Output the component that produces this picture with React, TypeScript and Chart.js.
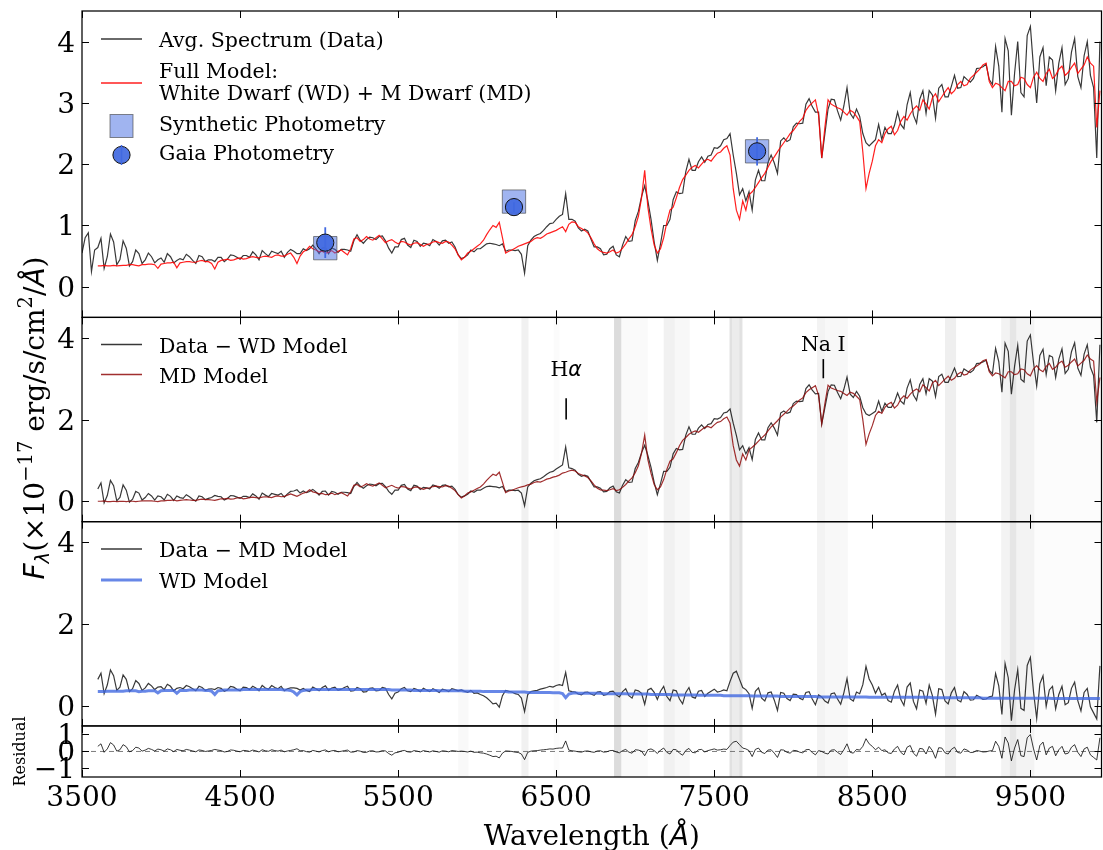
import React, { useEffect, useRef } from 'react';
import { Chart, registerables } from 'chart.js';

Chart.register(...registerables);

// ---------- data ----------
const WAVELENGTH = [
  3500, 3520, 3540, 3560, 3580, 3600, 3620, 3640, 3660, 3680, 3700, 3720, 3740, 3760, 3780, 3800, 3820, 3840, 3860, 3880,
  3900, 3920, 3940, 3960, 3980, 4000, 4020, 4040, 4060, 4080, 4100, 4120, 4140, 4160, 4180, 4200, 4220, 4240, 4260, 4280,
  4300, 4320, 4340, 4360, 4380, 4400, 4420, 4440, 4460, 4480, 4500, 4520, 4540, 4560, 4580, 4600, 4620, 4640, 4660, 4680,
  4700, 4720, 4740, 4760, 4780, 4800, 4820, 4840, 4860, 4880, 4900, 4920, 4940, 4960, 4980, 5000, 5020, 5040, 5060, 5080,
  5100, 5120, 5140, 5160, 5180, 5200, 5220, 5240, 5260, 5280, 5300, 5320, 5340, 5360, 5380, 5400, 5420, 5440, 5460, 5480,
  5500, 5520, 5540, 5560, 5580, 5600, 5620, 5640, 5660, 5680, 5700, 5720, 5740, 5760, 5780, 5800, 5820, 5840, 5860, 5880,
  5900, 5920, 5940, 5960, 5980, 6000, 6020, 6040, 6060, 6080, 6100, 6120, 6140, 6160, 6180, 6200, 6220, 6240, 6260, 6280,
  6300, 6320, 6340, 6360, 6380, 6400, 6420, 6440, 6460, 6480, 6500, 6520, 6540, 6560, 6580, 6600, 6620, 6640, 6660, 6680,
  6700, 6720, 6740, 6760, 6780, 6800, 6820, 6840, 6860, 6880, 6900, 6920, 6940, 6960, 6980, 7000, 7020, 7040, 7060, 7080,
  7100, 7120, 7140, 7160, 7180, 7200, 7220, 7240, 7260, 7280, 7300, 7320, 7340, 7360, 7380, 7400, 7420, 7440, 7460, 7480,
  7500, 7520, 7540, 7560, 7580, 7600, 7620, 7640, 7660, 7680, 7700, 7720, 7740, 7760, 7780, 7800, 7820, 7840, 7860, 7880,
  7900, 7920, 7940, 7960, 7980, 8000, 8020, 8040, 8060, 8080, 8100, 8120, 8140, 8160, 8180, 8200, 8220, 8240, 8260, 8280,
  8300, 8320, 8340, 8360, 8380, 8400, 8420, 8440, 8460, 8480, 8500, 8520, 8540, 8560, 8580, 8600, 8620, 8640, 8660, 8680,
  8700, 8720, 8740, 8760, 8780, 8800, 8820, 8840, 8860, 8880, 8900, 8920, 8940, 8960, 8980, 9000, 9020, 9040, 9060, 9080,
  9100, 9120, 9140, 9160, 9180, 9200, 9220, 9240, 9260, 9280, 9300, 9320, 9340, 9360, 9380, 9400, 9420, 9440, 9460, 9480,
  9500, 9520, 9540, 9560, 9580, 9600, 9620, 9640, 9660, 9680, 9700, 9720, 9740, 9760, 9780, 9800, 9820, 9840, 9860, 9880,
  9900, 9920, 9940,
];

// Avg. spectrum blueward of the model coverage (3500-3580 Å)
const DATA_BLUE_EDGE = [0.55, 0.80, 0.88, 0.25, 0.60];

// Full model (WD + MD)
const FULL_MODEL: (number | null)[] = [
  null, null, null, null, null, 0.34, 0.34, 0.35, 0.34, 0.34, 0.35, 0.34, 0.345, 0.35, 0.35, 0.36, 0.36, 0.35, 0.34, 0.36,
  0.36, 0.37, 0.37, 0.36, 0.30, 0.37, 0.38, 0.39, 0.39, 0.40, 0.31, 0.39, 0.40, 0.41, 0.41, 0.40, 0.40, 0.42, 0.43, 0.41,
  0.41, 0.38, 0.29, 0.40, 0.43, 0.44, 0.45, 0.43, 0.44, 0.46, 0.47, 0.45, 0.46, 0.48, 0.49, 0.48, 0.47, 0.49, 0.50, 0.49,
  0.48, 0.51, 0.52, 0.50, 0.50, 0.53, 0.55, 0.48, 0.38, 0.50, 0.57, 0.60, 0.66, 0.62, 0.60, 0.57, 0.58, 0.55, 0.56, 0.59,
  0.55, 0.58, 0.60, 0.56, 0.52, 0.62, 0.78, 0.80, 0.74, 0.77, 0.82, 0.78, 0.76, 0.80, 0.84, 0.78, 0.72, 0.75, 0.77, 0.73,
  0.70, 0.74, 0.73, 0.70, 0.68, 0.71, 0.72, 0.69, 0.66, 0.69, 0.70, 0.73, 0.74, 0.72, 0.71, 0.74, 0.73, 0.68, 0.62, 0.52,
  0.44, 0.48, 0.55, 0.58, 0.62, 0.66, 0.70, 0.76, 0.85, 0.93, 1.00, 0.97, 1.05, 0.80, 0.55, 0.58, 0.60, 0.63, 0.66, 0.68,
  0.70, 0.72, 0.74, 0.78, 0.80, 0.79, 0.82, 0.86, 0.88, 0.90, 0.92, 0.95, 0.98, 0.90, 1.02, 1.06, 1.05, 0.98, 0.95, 0.92,
  0.88, 0.80, 0.70, 0.62, 0.58, 0.56, 0.55, 0.57, 0.60, 0.55, 0.57, 0.63, 0.70, 0.78, 0.85, 0.98, 1.15, 1.45, 1.90, 1.30,
  0.95, 0.68, 0.55, 0.62, 0.80, 1.05, 1.25, 1.30, 1.45, 1.62, 1.75, 1.82, 1.90, 1.95, 1.98, 1.94, 2.00, 2.06, 2.08, 2.05,
  2.12, 2.18, 2.20, 2.26, 2.30, 2.15, 1.60, 1.25, 1.10, 1.40, 1.25, 1.50, 1.55, 1.62, 1.70, 1.78, 1.85, 1.95, 2.05, 2.12,
  2.20, 2.28, 2.35, 2.42, 2.50, 2.55, 2.62, 2.70, 2.75, 2.88, 2.95, 3.00, 3.05, 2.80, 2.10, 2.60, 3.05, 2.98, 2.95, 2.92,
  2.90, 2.85, 2.80, 2.88, 2.85, 2.78, 2.70, 2.20, 1.60, 1.85, 2.05, 2.30, 2.40, 2.35, 2.50, 2.58, 2.62, 2.48, 2.55, 2.70,
  2.78, 2.72, 2.82, 2.90, 2.95, 2.88, 3.05, 2.98, 2.90, 3.08, 3.15, 3.02, 3.10, 3.18, 3.25, 3.15, 3.20, 3.30, 3.35, 3.28,
  3.30, 3.40, 3.45, 3.50, 3.55, 3.62, 3.65, 3.35, 3.25, 3.32, 3.30, 3.25, 3.20, 3.35, 3.35, 3.28, 3.30, 3.42, 3.40, 3.30,
  3.25, 3.42, 3.50, 3.40, 3.35, 3.48, 3.55, 3.40, 3.45, 3.55, 3.60, 3.45, 3.50, 3.58, 3.65, 3.48, 3.55, 3.62, 3.75, 3.65,
  3.60, 2.60, 3.20,
];

// White dwarf model
const WD_MODEL: (number | null)[] = [
  null, null, null, null, null, 0.34, 0.34, 0.34, 0.35, 0.35, 0.35, 0.35, 0.35, 0.35, 0.36, 0.36, 0.36, 0.36, 0.34, 0.35,
  0.35, 0.36, 0.36, 0.36, 0.31, 0.36, 0.37, 0.37, 0.37, 0.37, 0.30, 0.37, 0.37, 0.37, 0.38, 0.38, 0.38, 0.38, 0.38, 0.37,
  0.37, 0.35, 0.27, 0.36, 0.37, 0.38, 0.38, 0.38, 0.38, 0.38, 0.38, 0.39, 0.39, 0.39, 0.39, 0.39, 0.39, 0.39, 0.39, 0.39,
  0.39, 0.39, 0.39, 0.39, 0.38, 0.38, 0.37, 0.33, 0.26, 0.34, 0.37, 0.38, 0.38, 0.39, 0.39, 0.39, 0.39, 0.39, 0.39, 0.39,
  0.39, 0.39, 0.39, 0.39, 0.39, 0.39, 0.39, 0.39, 0.39, 0.39, 0.39, 0.39, 0.39, 0.39, 0.39, 0.39, 0.39, 0.39, 0.38, 0.38,
  0.38, 0.38, 0.38, 0.38, 0.38, 0.37, 0.37, 0.37, 0.37, 0.37, 0.37, 0.37, 0.37, 0.36, 0.36, 0.36, 0.36, 0.36, 0.36, 0.36,
  0.36, 0.35, 0.35, 0.35, 0.35, 0.35, 0.35, 0.34, 0.34, 0.34, 0.34, 0.34, 0.34, 0.34, 0.34, 0.33, 0.33, 0.33, 0.33, 0.33,
  0.33, 0.32, 0.32, 0.32, 0.32, 0.32, 0.32, 0.32, 0.32, 0.31, 0.31, 0.31, 0.29, 0.19, 0.28, 0.30, 0.31, 0.30, 0.30, 0.30,
  0.30, 0.30, 0.30, 0.30, 0.30, 0.29, 0.29, 0.29, 0.29, 0.29, 0.29, 0.29, 0.29, 0.28, 0.28, 0.28, 0.28, 0.28, 0.28, 0.28,
  0.27, 0.27, 0.27, 0.27, 0.27, 0.27, 0.27, 0.26, 0.26, 0.26, 0.26, 0.26, 0.26, 0.26, 0.26, 0.25, 0.25, 0.25, 0.25, 0.25,
  0.25, 0.25, 0.25, 0.24, 0.24, 0.24, 0.24, 0.24, 0.24, 0.24, 0.24, 0.24, 0.23, 0.23, 0.23, 0.23, 0.23, 0.23, 0.23, 0.23,
  0.23, 0.22, 0.22, 0.22, 0.22, 0.22, 0.22, 0.22, 0.22, 0.22, 0.22, 0.22, 0.22, 0.21, 0.21, 0.21, 0.21, 0.21, 0.21, 0.21,
  0.21, 0.21, 0.21, 0.21, 0.21, 0.21, 0.21, 0.21, 0.21, 0.20, 0.20, 0.20, 0.20, 0.20, 0.20, 0.20, 0.20, 0.20, 0.20, 0.20,
  0.20, 0.20, 0.20, 0.20, 0.20, 0.20, 0.20, 0.20, 0.20, 0.19, 0.19, 0.19, 0.19, 0.19, 0.19, 0.19, 0.19, 0.19, 0.19, 0.19,
  0.19, 0.19, 0.19, 0.19, 0.19, 0.18, 0.18, 0.18, 0.18, 0.18, 0.18, 0.18, 0.18, 0.18, 0.18, 0.18, 0.18, 0.18, 0.18, 0.18,
  0.18, 0.18, 0.18, 0.18, 0.18, 0.18, 0.18, 0.17, 0.17, 0.17, 0.17, 0.17, 0.17, 0.17, 0.17, 0.17, 0.17, 0.17, 0.17, 0.17,
  0.17, 0.17, 0.17,
];

// Residual (data - full model)
const RESIDUAL: (number | null)[] = [
  null, null, null, null, null, 0.30, 0.45, -0.05, 0.15, 0.52, 0.38, 0.02, 0.10, 0.40, 0.28, -0.02, 0.05, 0.25, 0.20, 0.02,
  0.08, 0.18, 0.12, 0.03, 0.14, 0.10, 0.02, 0.15, 0.10, -0.01, 0.12, 0.07, 0.04, 0.12, 0.08, 0.03, -0.02, 0.09, 0.06, 0.00,
  0.03, 0.06, 0.12, 0.08, 0.05, -0.03, 0.00, 0.09, 0.07, 0.02, -0.02, 0.06, 0.05, 0.00, 0.08, 0.04, -0.03, 0.10, 0.04, 0.01,
  0.10, 0.05, 0.02, 0.08, -0.02, 0.03, 0.06, 0.10, 0.16, 0.04, 0.05, -0.01, -0.04, 0.06, 0.02, -0.03, 0.05, 0.09, -0.02, 0.04,
  0.06, -0.02, 0.01, 0.05, 0.08, -0.04, -0.03, 0.05, 0.02, -0.06, -0.05, 0.03, 0.04, -0.03, -0.02, 0.05, 0.03, -0.12, -0.22, -0.08,
  -0.05, 0.03, 0.06, -0.02, -0.04, 0.05, 0.02, -0.03, 0.05, 0.01, -0.03, 0.04, 0.00, -0.04, 0.04, 0.02, -0.02, 0.05, 0.03, 0.00,
  0.02, 0.00, -0.03, 0.02, -0.05, -0.04, -0.08, -0.10, -0.15, -0.22, -0.30, -0.28, -0.38, -0.10, 0.03, 0.02, 0.00, -0.04, -0.06, -0.15,
  -0.48, -0.05, 0.02, 0.04, 0.05, 0.08, 0.10, 0.12, 0.15, 0.14, 0.18, 0.20, 0.20, 0.62, 0.08, 0.04, 0.02, -0.02, -0.04, 0.02,
  0.03, -0.02, -0.05, 0.03, 0.04, -0.04, -0.02, 0.05, 0.06, -0.03, -0.08, 0.05, 0.12, -0.04, -0.10, 0.10, 0.08, 0.02, -0.25, 0.10,
  0.15, 0.05, -0.12, 0.08, 0.20, -0.05, -0.15, 0.12, 0.10, -0.10, -0.22, 0.06, 0.18, -0.05, -0.08, 0.10, 0.12, -0.03, 0.05, 0.10,
  0.15, 0.08, 0.10, 0.14, 0.12, 0.35, 0.55, 0.60, 0.40, 0.20, 0.15, 0.05, -0.30, 0.12, 0.20, -0.05, -0.12, 0.08, 0.10, -0.10,
  -0.35, 0.10, 0.08, -0.05, -0.10, 0.06, 0.05, -0.04, -0.08, 0.10, 0.12, -0.06, -0.20, 0.05, 0.00, -0.10, -0.15, 0.08, 0.10, -0.05,
  -0.18, 0.10, 0.45, -0.05, -0.10, 0.12, 0.08, 0.30, 0.75, 0.45, 0.30, 0.10, 0.25, 0.05, 0.10, -0.08, -0.12, 0.15, 0.30, -0.05,
  -0.20, 0.25, 0.35, -0.10, -0.28, 0.18, 0.15, -0.15, 0.30, 0.05, -0.40, 0.22, 0.20, -0.08, -0.15, 0.12, 0.25, -0.06, -0.10, 0.15,
  0.08, -0.06, -0.05, 0.06, 0.02, -0.03, -0.02, 0.03, 0.05, 0.60, 0.30, -0.40, 0.85, 0.50, -0.55, 0.20, 0.70, -0.25, -0.30, 0.80,
  1.00, 0.15, -0.50, 0.35, 0.55, -0.20, 0.20, 0.30, -0.25, 0.10, 0.30, -0.15, -0.10, 0.25, 0.40, -0.05, -0.30, 0.15, 0.25, -0.20,
  -0.35, -0.50, 0.80,
];

// Photometry
const PHOT_WAVE = [5039, 6233, 7771];
const SYNTH_FLUX = [0.63, 1.39, 2.21];
const GAIA_FLUX = [0.72, 1.30, 2.21];
const GAIA_ERR = [0.25, 0.08, 0.23];

// Axes
const X_MIN = 3500;
const X_MAX = 9950;
const X_TICKS = [3500, 4500, 5500, 6500, 7500, 8500, 9500];
const Y_TICKS_TOP = [0, 1, 2, 3, 4];
const Y_TICKS_MID = [0, 2, 4];
const Y_TICKS_RES = [-1, 0, 1];
const ZERO_LINE_X = [3500, 9950];

// Telluric bands: [start Å, end Å, opacity]
const TELLURIC_BANDS: [number, number, number][] = [
  [5880, 5945, 0.035],
  [6280, 6325, 0.08],
  [6485, 6520, 0.025],
  [6866, 6912, 0.2],
  [6912, 7080, 0.03],
  [7180, 7250, 0.08],
  [7250, 7345, 0.04],
  [7595, 7680, 0.11],
  [7600, 7612, 0.07],
  [7660, 7675, 0.07],
  [8150, 8200, 0.07],
  [8200, 8345, 0.04],
  [8960, 9030, 0.09],
  [9315, 9525, 0.07],
  [9370, 9410, 0.08],
  [9525, 9950, 0.02],
];

// Line identifications (middle panel)
const LINE_IDS = [
  { name: 'H', greek: 'α', wave: 6563, textY: 3.25, y0: 2.0, y1: 2.52 },
  { name: 'Na I', greek: '', wave: 8190, textY: 3.87, y0: 3.01, y1: 3.48 },
];

// ---------- derived series ----------
const nBlue = DATA_BLUE_EDGE.length;
const avgSpectrum = WAVELENGTH.map((w, i) => ({
  x: w,
  y: i < nBlue ? DATA_BLUE_EDGE[i] : (FULL_MODEL[i] as number) + (RESIDUAL[i] as number),
}));
const fullModel = WAVELENGTH.map((w, i) => ({ x: w, y: FULL_MODEL[i] }));
const mdModel = WAVELENGTH.map((w, i) => ({
  x: w,
  y: FULL_MODEL[i] === null ? null : (FULL_MODEL[i] as number) - (WD_MODEL[i] as number),
}));
const dataMinusWD = WAVELENGTH.map((w, i) => ({
  x: w,
  y: i < nBlue ? null : (avgSpectrum[i].y as number) - (WD_MODEL[i] as number),
}));
const wdModel = WAVELENGTH.map((w, i) => ({ x: w, y: WD_MODEL[i] }));
const dataMinusMD = WAVELENGTH.map((w, i) => ({
  x: w,
  y: i < nBlue ? null : (WD_MODEL[i] as number) + (RESIDUAL[i] as number),
}));
const residual = WAVELENGTH.map((w, i) => ({ x: w, y: RESIDUAL[i] }));
const synthPts = PHOT_WAVE.map((w, i) => ({ x: w, y: SYNTH_FLUX[i] }));
const gaiaPts = PHOT_WAVE.map((w, i) => ({ x: w, y: GAIA_FLUX[i] }));
const gaiaErrPts: { x: number; y: number | null }[] = [];
PHOT_WAVE.forEach((w, i) => {
  gaiaErrPts.push({ x: w, y: GAIA_FLUX[i] - GAIA_ERR[i] });
  gaiaErrPts.push({ x: w, y: GAIA_FLUX[i] + GAIA_ERR[i] });
  gaiaErrPts.push({ x: w, y: null });
});
const zeroLine = ZERO_LINE_X.map((w) => ({ x: w, y: 0 }));

// ---------- styling ----------
const SERIF = '"DejaVu Serif", "Liberation Serif", serif';
const SANS = '"DejaVu Sans", sans-serif';
const BLACK_LINE = 'rgba(0,0,0,0.78)';
const RED_LINE = 'rgba(255,0,0,0.88)';
const DARKRED_LINE = 'rgba(145,10,10,0.85)';
const BLUE_LINE = 'rgba(65,105,225,0.8)';
const ROYAL = 'rgb(65,105,225)';
const TICK_LEN = 7;

type Part = { t: string; f: string; dy?: number };

function drawParts(ctx: CanvasRenderingContext2D, parts: Part[], x: number, y: number, center: boolean) {
  ctx.textAlign = 'left';
  ctx.textBaseline = 'alphabetic';
  let total = 0;
  for (const p of parts) {
    ctx.font = p.f;
    total += ctx.measureText(p.t).width;
  }
  let cx = center ? x - total / 2 : x;
  for (const p of parts) {
    ctx.font = p.f;
    ctx.fillText(p.t, cx, y + (p.dy || 0));
    cx += ctx.measureText(p.t).width;
  }
}

const LEG_FONT = `20.5px ${SERIF}`;

const panelPlugin = {
  id: 'panelDecor',
  beforeDatasetsDraw(chart: any) {
    const { ctx, scales } = chart;
    const xs = scales.x;
    const top = scales.yMid.top;
    const bottom = scales.yRes.bottom;
    ctx.save();
    for (const [a, b, al] of TELLURIC_BANDS) {
      const x0 = xs.getPixelForValue(a);
      const x1 = xs.getPixelForValue(b);
      ctx.fillStyle = `rgba(80,80,80,${al})`;
      ctx.fillRect(x0, top, x1 - x0, bottom - top);
    }
    ctx.restore();
  },
  afterDatasetsDraw(chart: any) {
    const { ctx, scales } = chart;
    const xs = scales.x;
    const panels = [
      { s: scales.yTop, ticks: Y_TICKS_TOP },
      { s: scales.yMid, ticks: Y_TICKS_MID },
      { s: scales.yWD, ticks: Y_TICKS_MID },
      { s: scales.yRes, ticks: Y_TICKS_RES },
    ];
    const left = xs.left;
    const right = xs.right;
    ctx.save();
    ctx.fillStyle = '#000';
    ctx.strokeStyle = '#000';

    // line identifications
    ctx.lineWidth = 1.6;
    for (const id of LINE_IDS) {
      const px = xs.getPixelForValue(id.wave);
      const ty = scales.yMid.getPixelForValue(id.textY);
      const parts: Part[] = [{ t: id.name, f: `20.5px ${SERIF}` }];
      if (id.greek) parts.push({ t: id.greek, f: `italic 20.5px ${SANS}` });
      drawParts(ctx, parts, px, ty + 7.5, true);
      ctx.beginPath();
      ctx.moveTo(px, scales.yMid.getPixelForValue(id.y0));
      ctx.lineTo(px, scales.yMid.getPixelForValue(id.y1));
      ctx.stroke();
    }

    // frames and ticks
    for (const p of panels) {
      const s = p.s;
      ctx.lineWidth = 1.25;
      ctx.strokeRect(left, s.top, right - left, s.bottom - s.top);
      ctx.lineWidth = 1;
      ctx.beginPath();
      for (const t of X_TICKS) {
        const px = Math.round(xs.getPixelForValue(t)) + 0.5;
        ctx.moveTo(px, s.top);
        ctx.lineTo(px, s.top + TICK_LEN);
        ctx.moveTo(px, s.bottom);
        ctx.lineTo(px, s.bottom - TICK_LEN);
      }
      for (const t of p.ticks) {
        const py = Math.round(s.getPixelForValue(t)) + 0.5;
        ctx.moveTo(left, py);
        ctx.lineTo(left + TICK_LEN, py);
        ctx.moveTo(right, py);
        ctx.lineTo(right - TICK_LEN, py);
      }
      ctx.stroke();
      ctx.font = `28px ${SERIF}`;
      ctx.textAlign = 'right';
      ctx.textBaseline = 'alphabetic';
      for (const t of p.ticks) {
        const py = s.getPixelForValue(t);
        const label = t < 0 ? '\u2212' + Math.abs(t) : String(t);
        ctx.fillText(label, left - 7, py + 10);
      }
    }

    // x tick labels
    ctx.font = `28px ${SERIF}`;
    ctx.textAlign = 'center';
    ctx.textBaseline = 'alphabetic';
    const bottomY = scales.yRes.bottom;
    for (const t of X_TICKS) {
      ctx.fillText(String(t), xs.getPixelForValue(t), bottomY + 29);
    }

    // x axis title
    drawParts(
      ctx,
      [
        { t: 'Wavelength (', f: `28px ${SERIF}` },
        { t: 'Å', f: `italic 28px ${SANS}` },
        { t: ')', f: `28px ${SERIF}` },
      ],
      (left + right) / 2,
      845,
      true
    );

    // y axis title (rotated)
    ctx.save();
    ctx.translate(43.5, 418);
    ctx.rotate(-Math.PI / 2);
    drawParts(
      ctx,
      [
        { t: 'F', f: `italic 28px ${SANS}` },
        { t: 'λ', f: `italic 19.5px ${SANS}`, dy: 5 },
        { t: '(×10', f: `28px ${SERIF}` },
        { t: '\u221217', f: `19.5px ${SERIF}`, dy: -12 },
        { t: ' erg/s/cm', f: `28px ${SERIF}` },
        { t: '2', f: `19.5px ${SERIF}`, dy: -12 },
        { t: '/', f: `28px ${SERIF}` },
        { t: 'Å', f: `italic 28px ${SANS}` },
        { t: ')', f: `28px ${SERIF}` },
      ],
      0,
      0,
      true
    );
    ctx.restore();

    // residual label
    ctx.save();
    ctx.translate(25, scales.yRes.getPixelForValue(0));
    ctx.rotate(-Math.PI / 2);
    ctx.font = `16px ${SERIF}`;
    ctx.textAlign = 'center';
    ctx.textBaseline = 'alphabetic';
    ctx.fillText('Residual', 0, 0);
    ctx.restore();

    // ----- legends -----
    const lx0 = 101;
    const lx1 = 142;
    const tx = 159;
    const legLine = (y: number, color: string, w: number) => {
      ctx.strokeStyle = color;
      ctx.lineWidth = w;
      ctx.beginPath();
      ctx.moveTo(lx0, y);
      ctx.lineTo(lx1, y);
      ctx.stroke();
    };
    const legText = (txt: string, baseline: number) => {
      ctx.fillStyle = '#000';
      ctx.font = LEG_FONT;
      ctx.textAlign = 'left';
      ctx.textBaseline = 'alphabetic';
      ctx.fillText(txt, tx, baseline);
    };
    legLine(39, BLACK_LINE, 1.3);
    legText('Avg. Spectrum (Data)', 46.5);
    legLine(83, RED_LINE, 1.3);
    legText('Full Model:', 77.5);
    legText('White Dwarf (WD) + M Dwarf (MD)', 100);
    ctx.fillStyle = 'rgba(65,105,225,0.5)';
    ctx.strokeStyle = 'rgba(60,60,60,0.6)';
    ctx.lineWidth = 1;
    ctx.fillRect(121.5 - 11.5, 126 - 11.5, 23, 23);
    ctx.strokeRect(121.5 - 11.5, 126 - 11.5, 23, 23);
    legText('Synthetic Photometry', 131);
    ctx.beginPath();
    ctx.arc(121.5, 155, 8.6, 0, Math.PI * 2);
    ctx.fillStyle = 'rgba(65,105,225,0.92)';
    ctx.fill();
    ctx.strokeStyle = '#111';
    ctx.lineWidth = 1;
    ctx.stroke();
    ctx.strokeStyle = ROYAL;
    ctx.lineWidth = 1.6;
    ctx.beginPath();
    ctx.moveTo(121.5, 145);
    ctx.lineTo(121.5, 165);
    ctx.stroke();
    legText('Gaia Photometry', 160);

    legLine(344.5, BLACK_LINE, 1.3);
    legText('Data \u2212 WD Model', 352.5);
    legLine(374.5, DARKRED_LINE, 1.3);
    legText('MD Model', 382.5);

    legLine(549, BLACK_LINE, 1.3);
    legText('Data \u2212 MD Model', 556.5);
    legLine(580, BLUE_LINE, 3.2);
    legText('WD Model', 587.5);

    ctx.restore();
  },
};

const lineDefaults = {
  type: 'line' as const,
  pointRadius: 0,
  pointHoverRadius: 0,
  tension: 0,
  fill: false,
  spanGaps: false,
};

const hiddenY = (min: number, max: number, stackWeight: number, weight: number) => ({
  type: 'linear',
  position: 'left',
  stack: 'panels',
  stackWeight,
  weight,
  min,
  max,
  display: false,
  ticks: { display: false },
  grid: { display: false },
});

export default function App() {
  const canvasRef = useRef<HTMLCanvasElement>(null);

  useEffect(() => {
    document.documentElement.style.overflow = 'hidden';
    document.body.style.overflow = 'hidden';
    document.body.style.margin = '0';
    if (!canvasRef.current) return;
    const chart = new Chart(canvasRef.current, {
      type: 'line',
      data: {
        datasets: [
          {
            ...lineDefaults,
            label: 'Gaia Photometry',
            data: gaiaPts,
            yAxisID: 'yTop',
            showLine: false,
            pointStyle: 'circle',
            pointRadius: 8.6,
            pointBackgroundColor: 'rgba(65,105,225,0.92)',
            pointBorderColor: '#111',
            pointBorderWidth: 1,
            order: 0,
          },
          {
            ...lineDefaults,
            label: 'Gaia errors',
            data: gaiaErrPts,
            yAxisID: 'yTop',
            borderColor: ROYAL,
            borderWidth: 1.8,
            order: 1,
          },
          {
            ...lineDefaults,
            label: 'Synthetic Photometry',
            data: synthPts,
            yAxisID: 'yTop',
            showLine: false,
            pointStyle: 'rect',
            pointRadius: 16.5,
            pointBackgroundColor: 'rgba(65,105,225,0.5)',
            pointBorderColor: 'rgba(60,60,60,0.6)',
            pointBorderWidth: 1,
            order: 2,
          },
          {
            ...lineDefaults,
            label: 'Full Model',
            data: fullModel,
            yAxisID: 'yTop',
            borderColor: RED_LINE,
            borderWidth: 1.2,
            order: 3,
          },
          {
            ...lineDefaults,
            label: 'Avg. Spectrum (Data)',
            data: avgSpectrum,
            yAxisID: 'yTop',
            borderColor: BLACK_LINE,
            borderWidth: 1.2,
            order: 4,
          },
          {
            ...lineDefaults,
            label: 'MD Model',
            data: mdModel,
            yAxisID: 'yMid',
            borderColor: DARKRED_LINE,
            borderWidth: 1.2,
            order: 5,
          },
          {
            ...lineDefaults,
            label: 'Data − WD Model',
            data: dataMinusWD,
            yAxisID: 'yMid',
            borderColor: BLACK_LINE,
            borderWidth: 1.2,
            order: 6,
          },
          {
            ...lineDefaults,
            label: 'WD Model',
            data: wdModel,
            yAxisID: 'yWD',
            borderColor: BLUE_LINE,
            borderWidth: 3,
            order: 7,
          },
          {
            ...lineDefaults,
            label: 'Data − MD Model',
            data: dataMinusMD,
            yAxisID: 'yWD',
            borderColor: BLACK_LINE,
            borderWidth: 1.2,
            order: 8,
          },
          {
            ...lineDefaults,
            label: 'Residual',
            data: residual,
            yAxisID: 'yRes',
            borderColor: BLACK_LINE,
            borderWidth: 1,
            order: 9,
          },
          {
            ...lineDefaults,
            label: 'zero',
            data: zeroLine,
            yAxisID: 'yRes',
            borderColor: 'rgba(110,110,110,0.9)',
            borderWidth: 1,
            borderDash: [5, 4],
            order: 10,
          },
        ],
      },
      options: {
        responsive: false,
        animation: false,
        devicePixelRatio: 1,
        events: [],
        layout: { autoPadding: false, padding: { left: 82, top: 11, right: 1.5, bottom: 73 } },
        plugins: { legend: { display: false }, tooltip: { enabled: false } },
        scales: {
          x: {
            type: 'linear', min: X_MIN, max: X_MAX, display: false,
            ticks: { display: false }, grid: { display: false },
          },
          yTop: hiddenY(-0.5, 4.5, 6, 4),
          yMid: hiddenY(-0.5, 4.5, 4, 3),
          yWD: hiddenY(-0.5, 4.5, 4, 2),
          yRes: hiddenY(-1.5, 1.5, 1, 1),
        },
      } as any,
      plugins: [panelPlugin],
    });
    return () => chart.destroy();
  }, []);

  return (
    <div
      style={{
        position: 'fixed',
        left: 0,
        top: 0,
        width: '100vw',
        height: '100vh',
        overflow: 'hidden',
        background: '#fff',
      }}
    >
      <canvas ref={canvasRef} width={1103} height={850} style={{ width: 1103, height: 850, display: 'block' }} />
    </div>
  );
}
